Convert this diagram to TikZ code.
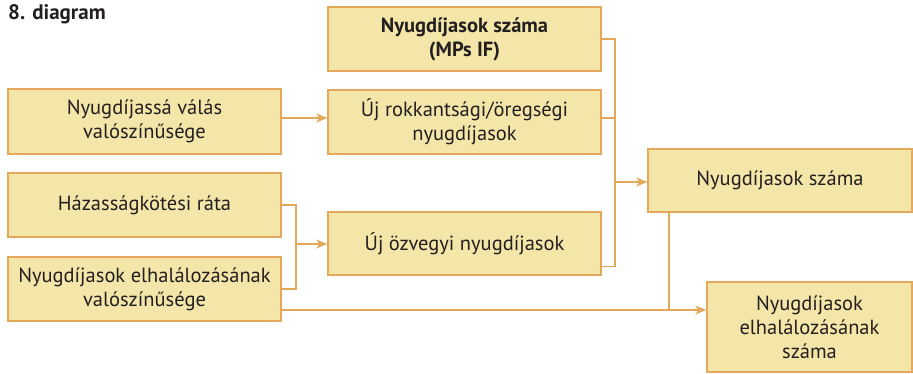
\documentclass[tikz,border=0pt]{standalone}
\usepackage{fontspec}
\setmainfont{PT Sans}
\usetikzlibrary{arrows.meta}
\definecolor{boxfill}{RGB}{243,230,168}
\definecolor{boxline}{RGB}{228,168,92}
\definecolor{txt}{RGB}{35,31,32}
\begin{document}
\begin{tikzpicture}[x=1pt,y=-1pt,
  box/.style={draw=boxline, fill=boxfill, line width=1.4pt, text=txt, align=center, inner sep=0pt, font=\fontsize{20.5}{24}\selectfont},
  conn/.style={draw=boxline, line width=1.4pt},
  arr/.style={conn, -{Stealth[length=11pt,width=9pt,inset=3pt]}}]
\useasboundingbox[fill=white] (0,0) rectangle (913,373);
\node[anchor=north west, inner sep=0pt, text=txt, font=\bfseries\fontsize{21}{24}\selectfont] (T) at (8,4) {8. diagram};
\node[box, minimum width=273pt, minimum height=65pt] (A) at (144.5,121.5) {Nyugdíjassá válás\\valószínűsége};
\node[box, minimum width=273pt, minimum height=64pt] (B) at (464.5,39) {\bfseries Nyugdíjasok száma\\\bfseries (MPs IF)};
\node[box, minimum width=273pt, minimum height=64pt] (C) at (464.5,122) {Új rokkantsági/öregségi\\nyugdíjasok};
\node[box, minimum width=273pt, minimum height=63pt] (D) at (464.5,243.5) {Új özvegyi nyugdíjasok};
\node[box, minimum width=273pt, minimum height=64pt] (E) at (144.5,205) {Házasságkötési ráta};
\node[box, minimum width=273pt, minimum height=64pt] (F) at (144.5,289) {Nyugdíjasok elhalálozásának\\valószínűsége};
\node[box, minimum width=264pt, minimum height=63pt] (G) at (780,180.5) {Nyugdíjasok száma};
\node[box, minimum width=205pt, minimum height=90pt] (H) at (809.5,327) {Nyugdíjasok\\elhalálozásának\\száma};
\coordinate (j0) at (300,118);
\coordinate (j1) at (615,182);
\coordinate (j2) at (296,244);
\coordinate (j3) at (669,310);
\draw[arr] (A.east |- j0) -- (C.west |- j0);
\draw[conn] (B.east) -| (j1) |- ([yshift=9pt]D.south east);
\draw[conn] (C.east |- 0,118) -- (j1 |- 0,118);
\draw[arr] (j1) -- (j1 -| G.west);
\draw[conn] (E.east) -| (j2) |- (F.east);
\draw[arr] (j2) -- (j2 -| D.west);
\draw[conn] (G.south -| j3) -- (j3);
\draw[arr] (F.east |- j3) -- (j3 -| H.west);
\end{tikzpicture}
\end{document}
